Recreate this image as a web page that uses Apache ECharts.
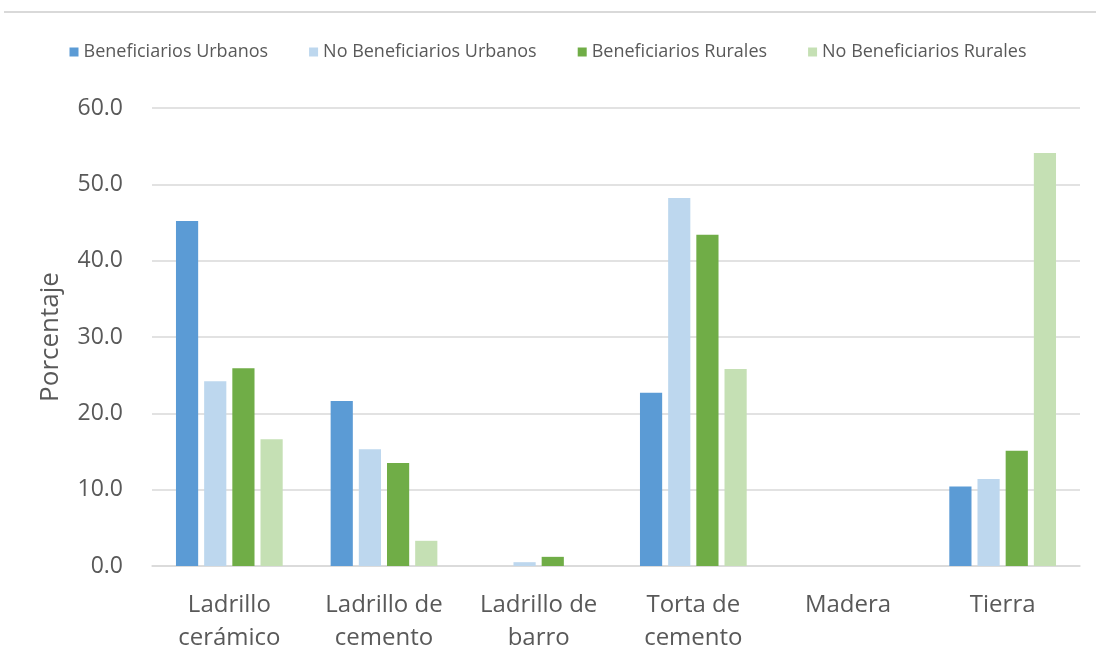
<!DOCTYPE html>
<html>
<head>
<meta charset="utf-8">
<script src="https://cdn.jsdelivr.net/npm/echarts@6/dist/echarts.min.js"></script>
<style>
  html, body { margin: 0; padding: 0; background: #fff; }
  #chart { width: 1096px; height: 647px; }
</style>
</head>
<body>
<div id="chart"></div>
<script>
// materiales del piso
const categories = ['Ladrillo\ncerámico', 'Ladrillo de\ncemento', 'Ladrillo de\nbarro', 'Torta de\ncemento', 'Madera', 'Tierra'];
const seriesNames = ['Beneficiarios Urbanos', 'No Beneficiarios Urbanos', 'Beneficiarios Rurales', 'No Beneficiarios Rurales'];
const benefUrbanos = [45.2, 21.6, 0.0, 22.7, 0.0, 10.4];
const noBenefUrbanos = [24.2, 15.3, 0.5, 48.2, 0.0, 11.4];
const benefRurales = [25.9, 13.5, 1.2, 43.4, 0.0, 15.1];
const noBenefRurales = [16.6, 3.3, 0.0, 25.8, 0.0, 54.1];
const colors = ['#5B9BD5', '#BDD7EE', '#70AD47', '#C5E0B4'];

const font = '"Open Sans", "Noto Sans", sans-serif';
const allData = [benefUrbanos, noBenefUrbanos, benefRurales, noBenefRurales];

const chart = echarts.init(document.getElementById('chart'));
chart.setOption({
  animation: false,
  color: colors,
  textStyle: { fontFamily: font },
  graphic: [{
    type: 'line',
    shape: { x1: 4, y1: 12, x2: 1096, y2: 12 },
    style: { stroke: '#d9d9d9', lineWidth: 2 }
  }],
  legend: {
    top: 38,
    left: 'center',
    itemWidth: 9,
    itemHeight: 9,
    itemGap: 41,
    icon: 'rect',
    textStyle: { fontSize: 18, color: '#595959', fontFamily: font }
  },
  grid: { left: 152, right: 16, top: 108, bottom: 81, outerBoundsMode: 'none' },
  xAxis: {
    type: 'category',
    data: categories,
    axisLine: { lineStyle: { color: '#d9d9d9', width: 1.5 } },
    axisTick: { show: false },
    axisLabel: { fontSize: 24, color: '#595959', lineHeight: 33, margin: 23, fontFamily: font }
  },
  yAxis: {
    type: 'value',
    min: 0,
    max: 60,
    interval: 10,
    name: 'Porcentaje',
    nameLocation: 'middle',
    nameGap: 88,
    nameTextStyle: { fontSize: 26, color: '#595959', fontFamily: font },
    axisLine: { show: false },
    axisTick: { show: false },
    axisLabel: { fontSize: 23, color: '#595959', margin: 29, formatter: v => v.toFixed(1), fontFamily: font },
    splitLine: { lineStyle: { color: '#d9d9d9', width: 1.5 } }
  },
  series: seriesNames.map((name, i) => ({
    name: name,
    type: 'bar',
    data: allData[i],
    barGap: '27%',
    barCategoryGap: '31%'
  }))
});
</script>
</body>
</html>
